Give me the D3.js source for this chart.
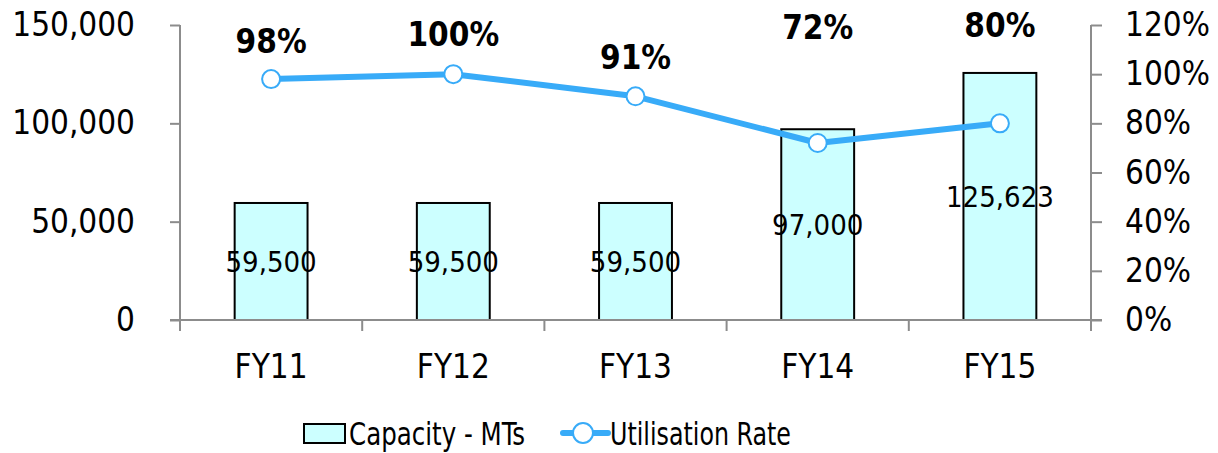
<!DOCTYPE html>
<html><head><meta charset="utf-8">
<script src="https://cdn.jsdelivr.net/npm/d3@7/dist/d3.min.js"></script>
<style>
html,body{margin:0;padding:0;background:#fff;}
svg{display:block;font-family:"DejaVu Sans Condensed","DejaVu Sans",sans-serif;}
</style></head>
<body><svg id="c" width="1218" height="453"></svg>
<script>
const categories = ["FY11","FY12","FY13","FY14","FY15"];
const capacity = [59500, 59500, 59500, 97000, 125623];
const utilisation = [98, 100, 91, 72, 80];
const leftTicks = [0, 50000, 100000, 150000];
const rightTicks = [0, 20, 40, 60, 80, 100, 120];
const seriesNames = ["Capacity - MTs", "Utilisation Rate"];

// layout (label anchor heights, in right-axis units)
const rateLabelAt = [113.5, 116.3, 106.8, 119.2, 120];

const svg = d3.select("#c");
const L = 180, R = 1091, T = 25, B = 320;
const axisColor = "#8c8c8c", blue = "#38abf8";

const x = d3.scaleBand().domain(categories).range([L, R]).paddingInner(0.6).paddingOuter(0.3);
const yL = d3.scaleLinear().domain([0, 150000]).range([B, T]);
const yR = d3.scaleLinear().domain([0, 120]).range([B, T]);
const xc = d => x(d) + x.bandwidth() / 2;
const fmt = d3.format(",");

// bars
svg.append("g").selectAll("rect").data(categories).join("rect")
  .attr("x", d => x(d)).attr("width", x.bandwidth())
  .attr("y", (d, i) => yL(capacity[i])).attr("height", (d, i) => B - yL(capacity[i]))
  .attr("fill", "#ccffff").attr("stroke", "#000").attr("stroke-width", 2);

// axes
const gl = svg.append("g").attr("transform", `translate(${L},0)`)
  .call(d3.axisLeft(yL).tickValues(leftTicks).tickFormat(fmt).tickSize(10).tickPadding(35));
const gr = svg.append("g").attr("transform", `translate(${R},0)`)
  .call(d3.axisRight(yR).tickValues(rightTicks).tickFormat(d => d + "%").tickSize(11).tickPadding(23));
const bounds = d3.range(categories.length + 1).map(i => L + i * (R - L) / categories.length);
const gb = svg.append("g").attr("transform", `translate(0,${B})`);
gb.append("line").attr("x1", L - 10).attr("x2", R + 11).attr("stroke", axisColor).attr("stroke-width", 2);
gb.selectAll("line.t").data(bounds).join("line").attr("class", "t")
  .attr("x1", d => d).attr("x2", d => d).attr("y1", 0).attr("y2", 11)
  .attr("stroke", axisColor).attr("stroke-width", 2);
gb.selectAll("text").data(categories).join("text")
  .attr("x", d => xc(d)).attr("y", 58).attr("text-anchor", "middle")
  .attr("font-size", 33).attr("fill", "#000").text(d => d);

[gl, gr].forEach(g => {
  g.select(".domain").attr("stroke", axisColor).attr("stroke-width", 2);
  g.selectAll(".tick line").attr("stroke", axisColor).attr("stroke-width", 2);
  g.selectAll(".tick text").attr("font-size", 33).attr("fill", "#000")
    .attr("font-family", '"DejaVu Sans Condensed","DejaVu Sans",sans-serif');
});
gl.select(".domain").attr("d", `M0,${T}V${B}`);
gr.select(".domain").attr("d", `M0,${T}V${B}`);

// bar value labels
svg.append("g").selectAll("text").data(categories).join("text")
  .attr("x", d => xc(d)).attr("y", (d, i) => (yL(capacity[i]) + B) / 2)
  .attr("dy", "0.36em").attr("text-anchor", "middle").attr("font-size", 29)
  .attr("fill", "#000").text((d, i) => fmt(capacity[i]));

// line
const line = d3.line().x((d, i) => xc(categories[i])).y(d => yR(d));
svg.append("path").datum(utilisation).attr("d", line)
  .attr("fill", "none").attr("stroke", blue).attr("stroke-width", 6).attr("stroke-linejoin", "round");
svg.append("g").selectAll("circle").data(utilisation).join("circle")
  .attr("cx", (d, i) => xc(categories[i])).attr("cy", d => yR(d)).attr("r", 9)
  .attr("fill", "#fff").attr("stroke", blue).attr("stroke-width", 2);

// rate labels
svg.append("g").selectAll("text").data(utilisation).join("text")
  .attr("x", (d, i) => xc(categories[i])).attr("y", (d, i) => yR(rateLabelAt[i]))
  .attr("dy", "0.36em").attr("text-anchor", "middle").attr("font-size", 33).attr("font-weight", "bold")
  .attr("fill", "#000").text(d => d + "%");

// legend
const lg = svg.append("g");
lg.append("rect").attr("x", 304).attr("y", 424).attr("width", 41).attr("height", 19)
  .attr("fill", "#ccffff").attr("stroke", "#000").attr("stroke-width", 2);
lg.append("text").attr("x", 349).attr("y", 445).attr("font-size", 32)
  .attr("textLength", 176).attr("lengthAdjust", "spacingAndGlyphs").text(seriesNames[0]);
lg.append("line").attr("x1", 563).attr("x2", 608).attr("y1", 433).attr("y2", 433)
  .attr("stroke", blue).attr("stroke-width", 6).attr("stroke-linecap", "round");
lg.append("circle").attr("cx", 583).attr("cy", 433).attr("r", 10)
  .attr("fill", "#fff").attr("stroke", blue).attr("stroke-width", 2);
lg.append("text").attr("x", 610).attr("y", 445).attr("font-size", 32)
  .attr("textLength", 181).attr("lengthAdjust", "spacingAndGlyphs").text(seriesNames[1]);
</script></body></html>
